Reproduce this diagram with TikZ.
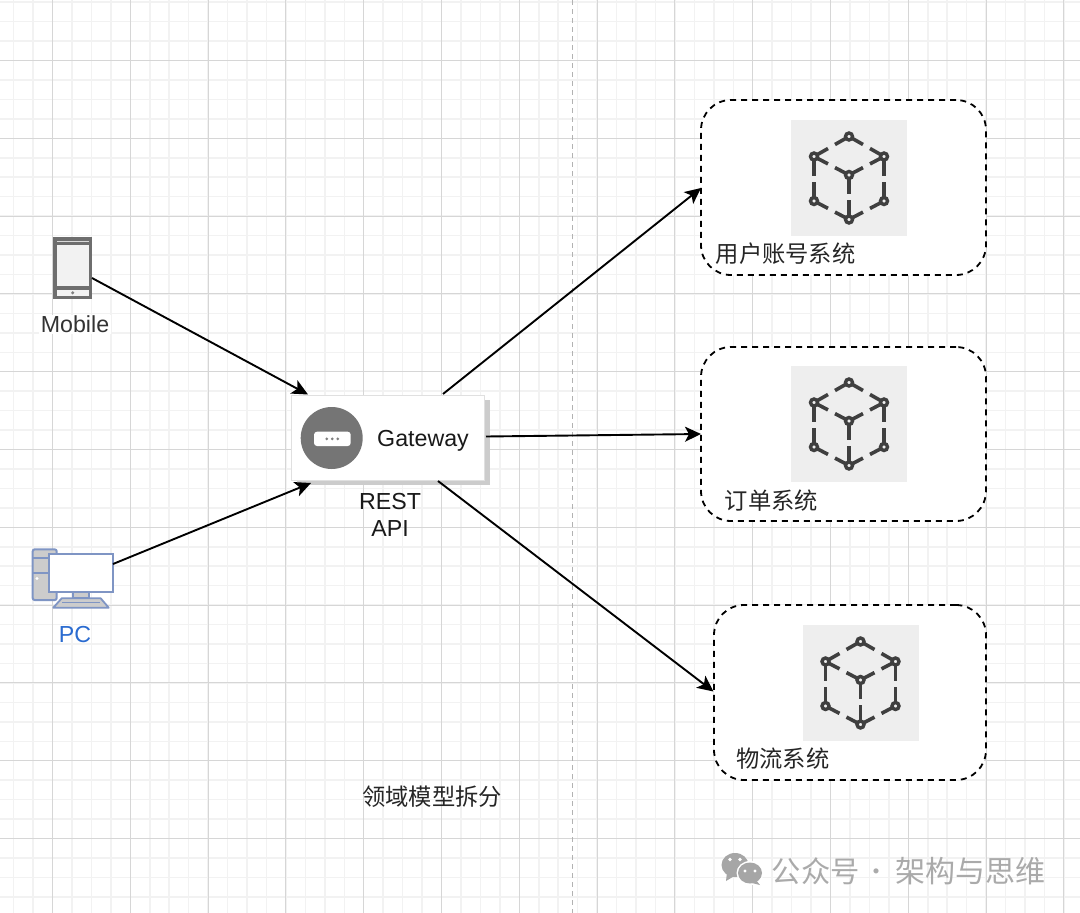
\documentclass[tikz,border=0pt]{standalone}
\usepackage{fontspec}
\setmainfont{Liberation Sans}
\newfontfamily\cjk{Noto Sans CJK SC}
\usetikzlibrary{arrows.meta,calc,shapes.geometric}
\definecolor{gridmajor}{HTML}{D6D6D6}
\definecolor{gridminor}{HTML}{F2F2F2}
\definecolor{iconbg}{HTML}{EEEEEE}
\definecolor{icondark}{HTML}{3F3F3F}
\definecolor{phone}{HTML}{6E6E6E}
\definecolor{pcline}{HTML}{7F95C4}
\definecolor{pcfill}{HTML}{CCCCCC}
\definecolor{pcblue}{HTML}{2A6BD0}
\definecolor{gwgray}{HTML}{757575}
\definecolor{wm}{HTML}{A6A6A6}
\tikzset{
  flow/.style={draw=black,line width=1.9pt,-{Stealth[length=16pt,width=15pt,inset=4pt]}},
  sysbox/.style={draw=black,fill=white,line width=1.8pt,rounded corners=30pt,dash pattern=on 6pt off 5pt,inner sep=0pt},
  iconbox/.style={fill=iconbg,draw=none,minimum width=116pt,minimum height=116pt,inner sep=0pt},
  cn/.style={font=\cjk\fontsize{23.3}{27}\selectfont,text=black!85,inner sep=0pt},
  lat/.style={font=\fontsize{23.2}{27}\selectfont,inner sep=0pt,align=center},
  cubeedge/.style={draw=icondark,line width=3.6pt},
  cubevertex/.style={draw=icondark,fill=iconbg,line width=3.4pt,circle,minimum size=7pt,inner sep=0pt},
}
% cube icon: #1 = centre of the icon square
\newcommand{\cubeicon}[1]{%
  \begin{scope}[shift={(#1)}]
    \coordinate (T) at (0,-41.5);
    \coordinate (UL) at (-35,-21.5);
    \coordinate (UR) at (35,-21.5);
    \coordinate (C) at (0,-3);
    \coordinate (LL) at (-35,23);
    \coordinate (LR) at (35,23);
    \coordinate (B) at (0,41.5);
    \foreach \a/\b/\f in {T/UL/0.4,T/UR/0.4,UL/C/0.4,UR/C/0.4,UL/LL/0.43,UR/LR/0.43,C/B/0.43,LL/B/0.4,LR/B/0.4}{
      \draw[cubeedge] (\a) -- ($(\a)!\f!(\b)$);
      \draw[cubeedge] (\b) -- ($(\b)!\f!(\a)$);
    }
    \foreach \a in {T,UL,UR,C,LL,LR,B}{
      \node[cubevertex] at (\a) {};
    }
  \end{scope}}
\begin{document}
\begin{tikzpicture}[x=1pt,y=-1pt]
\useasboundingbox (0,0) rectangle (1080,913);
\fill[white] (0,0) rectangle (1080,913);
% grid
\foreach \i in {-2,...,53}{
  \pgfmathsetmacro{\gx}{52.5+19.45*\i}
  \draw[gridminor,line width=1.5pt] (\gx,0) -- (\gx,913);
}
\foreach \i in {-3,...,44}{
  \pgfmathsetmacro{\gy}{60.5+19.45*\i}
  \draw[gridminor,line width=1.5pt] (0,\gy) -- (1080,\gy);
}
\foreach \i in {0,...,13}{
  \pgfmathsetmacro{\gx}{52.5+77.8*\i}
  \draw[gridmajor,line width=0.9pt] (\gx,0) -- (\gx,913);
}
\foreach \i in {0,...,10}{
  \pgfmathsetmacro{\gy}{60.5+77.8*\i}
  \draw[gridmajor,line width=0.9pt] (0,\gy) -- (1080,\gy);
}
% divider
\draw[gray!60,line width=1pt,dash pattern=on 5pt off 4pt] (572.5,0) -- (572.5,913);

% mobile icon
\node[fill=phone,minimum width=39pt,minimum height=62.5pt,inner sep=0pt] (mobile) at (72.7,268) {};
\fill[white!95!black] (57.3,245.3) rectangle (88.7,286);
\draw[white!85!black,line width=0.9pt] (57.3,241.3) -- (88.7,241.3);
\fill[white!95!black] (57.3,290) rectangle (88.7,295.7);
\fill[gray] (72.7,292.8) circle (1.7pt);
\node[lat,text=black!80,fill=white,inner xsep=2pt,inner ysep=1pt] (mobilelabel) at (75,324.5) {Mobile};

% pc icon
\node[draw=pcline,fill=pcfill,line width=2pt,rounded corners=2pt,minimum width=24pt,minimum height=50.7pt,inner sep=0pt] (tower) at (44.7,574.7) {};
\draw[pcline,line width=1.8pt] (32.7,558) -- (49,558);
\draw[pcline,line width=1.8pt] (32.7,573) -- (49,573);
\fill[white] (37,578.5) circle (1.6pt);
\draw[pcline,fill=pcfill,line width=1.8pt] (73.3,591.7) rectangle (88.7,598.3);
\draw[pcline,fill=pcfill,line width=1.8pt,line join=round] (61.7,598.3) -- (100.7,598.3) -- (108.7,607.7) -- (53.3,607.7) -- cycle;
\draw[pcline,line width=1.6pt] (62,602.5) -- (100,602.5);
\node[draw=pcline,fill=white,line width=2pt,minimum width=63.7pt,minimum height=37.7pt,inner sep=0pt] (pc) at (80.8,572.8) {};
\node[lat,text=pcblue] (pclabel) at (75,635) {PC};

% system boxes
\node[sysbox,minimum width=285pt,minimum height=175pt] (sys1) at (843.5,187.5) {};
\node[sysbox,minimum width=285pt,minimum height=174pt] (sys2) at (843.5,434) {};
\node[sysbox,minimum width=272pt,minimum height=175pt] (sys3) at (850,692.5) {};
\node[iconbox] (icon1) at (849,178) {};
\node[iconbox] (icon2) at (849,424) {};
\node[iconbox] (icon3) at (860.5,683) {};
\cubeicon{icon1.center}
\cubeicon{icon2.center}
\cubeicon{icon3.center}
\node[cn,anchor=west] (name1) at (715.5,254) {用户账号系统};
\node[cn,anchor=west] (name2) at (724.5,501) {订单系统};
\node[cn,anchor=west] (name3) at (736,759) {物流系统};

% gateway
\fill[black!20] (296.5,400) rectangle (490,485);
\node[draw=black!12,fill=white,line width=1pt,minimum width=193pt,minimum height=85pt,inner sep=0pt] (gw) at (388.3,437.5) {};
\fill[gwgray] (331.7,438) circle (31pt);
\fill[white,rounded corners=3pt] (314,431.7) rectangle (350.7,446);
\foreach \dx in {-5.5,0,5.5}{\fill[gray] (332.3+\dx,438.8) circle (1.5pt);}
\node[lat,text=black!90] (gwtext) at (423,441) {Gateway};
\node[lat,text=black!90] (rest) at (390,514.5) {REST\\API};
\node[cn] (caption) at (432,797) {领域模型拆分};

% connectors
\coordinate (m0) at (92,278);
\coordinate (g1) at (308,394.5);
\coordinate (p0) at (113,564);
\coordinate (g2) at (311,483);
\coordinate (g3) at (443,394);
\coordinate (s1) at (701,188);
\coordinate (g4) at (486,436.5);
\coordinate (s2) at (701,434);
\coordinate (g5) at (438,481);
\coordinate (s3) at (713.5,691.5);
\draw[flow] (m0) -- (g1);
\draw[flow] (p0) -- (g2);
\draw[flow] (g3) -- (s1);
\draw[flow] (g4) -- (s2);
\draw[flow] (g5) -- (s3);

% watermark
\begin{scope}[wm]
  \fill (735,865) ellipse (13.5pt and 12pt);
  \fill (727,872) -- (726,881) -- (736,875) -- cycle;
  \fill[white] (750,873) ellipse (13.5pt and 12pt);
  \fill (750,873) ellipse (12pt and 10.5pt);
  \fill (756,880) -- (760,885) -- (748,882) -- cycle;
\end{scope}
\fill[white] (730,859.5) circle (1.8pt) (740,859.5) circle (1.8pt) (745,871) circle (1.6pt) (755,871) circle (1.6pt);
\node[font=\cjk\fontsize{29.3}{32}\selectfont,text=wm,inner sep=0pt,anchor=west,text opacity=0.95] (mark1) at (771.5,871) {公众号};
\node[font=\cjk\fontsize{24}{32}\selectfont,text=wm,inner sep=0pt,text opacity=0.95] (markdot) at (876,875) {·};
\node[font=\cjk\fontsize{30}{32}\selectfont,text=wm,inner sep=0pt,anchor=west,text opacity=0.95] (mark2) at (895,871) {架构与思维};
\end{tikzpicture}
\end{document}
